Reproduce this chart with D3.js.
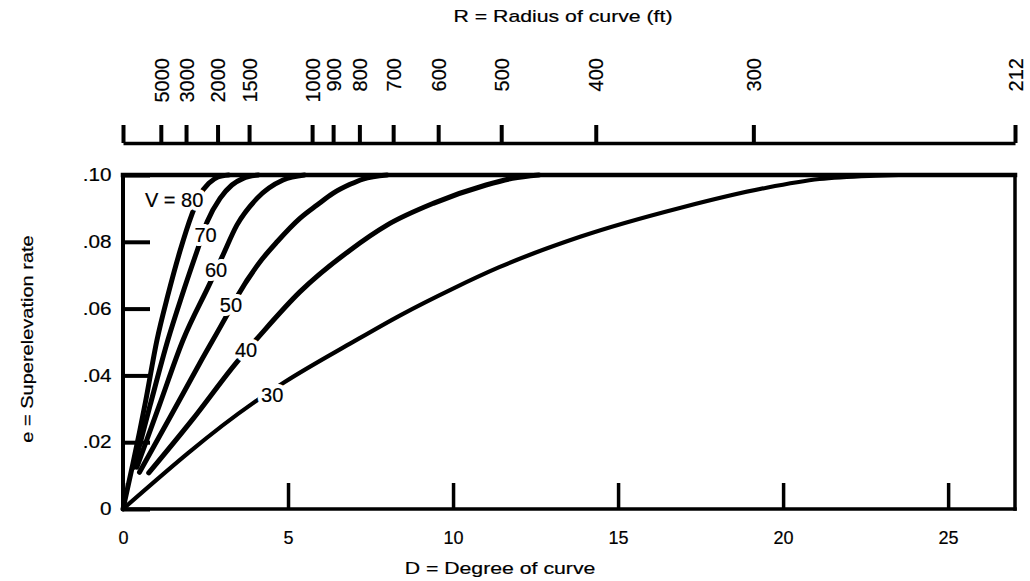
<!DOCTYPE html>
<html>
<head>
<meta charset="utf-8">
<script src="https://cdn.jsdelivr.net/npm/d3@7"></script>
<style>
  body { margin: 0; background: #fff; }
  svg { display: block; font-family: "Liberation Sans", Arial, Helvetica, sans-serif; }
  text.ink { fill: #000; stroke: #000; stroke-width: 0.2px; }
</style>
</head>
<body>
<svg id="chart" width="1030" height="581"></svg>
<script>
// Degree of curve (arc definition): D = 5729.58 / R
const ARC = 5729.58;

// Axis ticks
const R_TICKS = [5000, 3000, 2000, 1500, 1000, 900, 800, 700, 600, 500, 400, 300, 212];
const DEG_TICKS = [0, 5, 10, 15, 20, 25];
const E_TICKS = [0, 0.02, 0.04, 0.06, 0.08, 0.10];

// Design speeds (mph) and their superelevation curves, [D (deg), e]
const SPEEDS = [80, 70, 60, 50, 40, 30];
const e80 = [[0, 0], [0.3, 0.0135], [0.68, 0.032], [1.03, 0.0506], [1.36, 0.064], [1.72, 0.077],
             [2.09, 0.0883], [2.33, 0.094], [2.6, 0.0975], [2.88, 0.0994], [3.2, 0.1]];
const e70 = [[0.33, 0.0125], [0.82, 0.031], [1.36, 0.0506], [1.79, 0.064], [2.27, 0.078],
             [2.55, 0.086], [2.94, 0.093], [3.3, 0.097], [3.64, 0.099], [4.1, 0.1]];
const e60 = [[0.42, 0.0125], [1.1, 0.031], [1.82, 0.0506], [2.64, 0.0677], [3.0, 0.0754],
             [3.45, 0.085], [4.06, 0.093], [4.85, 0.0985], [5.5, 0.1]];
const e50 = [[0.5, 0.011], [1.4, 0.027], [2.33, 0.0437], [3.09, 0.057], [3.45, 0.0635],
             [4.2, 0.0746], [4.67, 0.08], [5.36, 0.087], [5.88, 0.091], [6.36, 0.0945],
             [6.88, 0.0972], [7.27, 0.0988], [8.0, 0.1]];
const e40 = [[0.78, 0.0108], [2.09, 0.0266], [3.45, 0.044], [4.15, 0.052], [5.36, 0.065],
             [6.88, 0.0775], [8.0, 0.085], [9.4, 0.0915], [11.0, 0.097], [11.8, 0.099], [12.6, 0.1]];
const e30 = [[0, 0], [3.94, 0.0317], [4.9, 0.038], [6.88, 0.0495], [8.4, 0.058], [10.0, 0.066],
             [11.4, 0.0724], [13.85, 0.0815], [16.9, 0.0902], [19.5, 0.0962], [21.1, 0.0988],
             [22.8, 0.0998], [23.5, 0.1]];
const CURVES = [e80, e70, e60, e50, e40, e30];
const CURVE_LABELS = ["V = 80", "70", "60", "50", "40", "30"];

const svg = d3.select("#chart");
const dMax = ARC / 212;
const x = d3.scaleLinear().domain([0, dMax]).range([123, 1015]);
const y = d3.scaleLinear().domain([0, 0.10]).range([509, 175]);

// text laid out wider along its own direction
function stretchedText(parent, tx, ty, rot, sx, size, anchor, str) {
  return parent.append("g")
    .attr("transform", `translate(${tx},${ty}) rotate(${rot}) scale(${sx},1)`)
    .append("text")
    .attr("class", "ink")
    .attr("text-anchor", anchor)
    .attr("font-size", size)
    .text(str);
}

// ---- top radius scale ----
const topAxis = d3.axisTop(x)
  .tickValues([0, ...R_TICKS.map(r => ARC / r)])
  .tickSizeInner(18).tickSizeOuter(0)
  .tickFormat((d, i) => i === 0 ? "" : String(R_TICKS[i - 1]));
svg.append("g")
  .attr("transform", `translate(0,143)`)
  .call(topAxis)
  .attr("font-size", null).attr("font-family", null)
  .call(g => {
    g.select(".domain").attr("stroke", "#000").attr("stroke-width", 3.5);
    g.selectAll(".tick line").attr("stroke", "#000").attr("stroke-width", 4);
    g.selectAll(".tick text")
      .attr("class", "ink")
      .attr("transform", "rotate(-90)")
      .attr("x", 85).attr("y", 0).attr("dy", "0.36em")
      .attr("text-anchor", "end")
      .attr("font-size", 20);
  });

stretchedText(svg, 563, 22, 0, 1.25, 17, "middle", "R = Radius of curve (ft)");

// ---- bottom degree axis ----
svg.append("g")
  .attr("transform", `translate(0,${y(0)})`)
  .call(d3.axisBottom(x).tickValues(DEG_TICKS).tickSizeInner(-26).tickSizeOuter(0)
          .tickPadding(22).tickFormat(d3.format("d")))
  .attr("font-size", null).attr("font-family", null)
  .call(g => {
    g.select(".domain").remove();
    g.selectAll(".tick line").attr("stroke", "#000").attr("stroke-width", 3.5);
    g.selectAll(".tick text").attr("class", "ink").attr("font-size", 18);
  });

stretchedText(svg, 500, 574, 0, 1.25, 17, "middle", "D = Degree of curve");

// ---- left superelevation axis ----
const eFmt = d => d === 0 ? "0" : d3.format(".2f")(d).replace(/^0/, "");
svg.append("g")
  .attr("transform", `translate(${x(0)},0)`)
  .call(d3.axisLeft(y).tickValues(E_TICKS).tickSizeInner(-27).tickSizeOuter(0)
          .tickPadding(10).tickFormat(eFmt))
  .attr("font-size", null).attr("font-family", null)
  .call(g => {
    g.select(".domain").remove();
    g.selectAll(".tick line").attr("stroke", "#000").attr("stroke-width", 4);
    g.selectAll(".tick text").attr("class", "ink").attr("font-size", 18)
      .attr("transform", "scale(1.15,1)");
  });

stretchedText(svg, 33, 339, -90, 1.25, 16, "middle", "e = Superelevation rate");

// ---- plot frame ----
const frame = svg.append("g").attr("stroke", "#000").attr("stroke-linecap", "square");
frame.append("line").attr("x1", x(0)).attr("x2", x(dMax)).attr("y1", y(0.1)).attr("y2", y(0.1)).attr("stroke-width", 4.5);
frame.append("line").attr("x1", x(0)).attr("x2", x(0)).attr("y1", y(0.1)).attr("y2", y(0)).attr("stroke-width", 4);
frame.append("line").attr("x1", x(0)).attr("x2", x(dMax)).attr("y1", y(0)).attr("y2", y(0)).attr("stroke-width", 3.5);
frame.append("line").attr("x1", x(dMax)).attr("x2", x(dMax)).attr("y1", y(0.1)).attr("y2", y(0)).attr("stroke-width", 3.5);

// ---- speed curves ----
const line = d3.line().x(d => x(d[0])).y(d => y(d[1])).curve(d3.curveMonotoneX);
svg.append("g")
  .selectAll("path")
  .data(CURVES)
  .join("path")
  .attr("d", line)
  .attr("fill", "none")
  .attr("stroke", "#000")
  .attr("stroke-width", (d, i) => SPEEDS[i] === 30 ? 4.2 : 5)
  .attr("stroke-linecap", "round");

// curve labels: a white halo layer breaks the lines, then the ink on top
const labelAt = [[1.55, 0.0925], [2.5, 0.082], [2.82, 0.0715], [3.27, 0.0611], [3.73, 0.0476], [4.52, 0.0341]];
const labels = svg.append("g");
for (const layer of ["halo", "ink"]) {
  labels.append("g")
    .selectAll("text")
    .data(CURVE_LABELS)
    .join("text")
    .attr("class", layer === "ink" ? "ink" : null)
    .attr("x", (d, i) => x(labelAt[i][0]))
    .attr("y", (d, i) => y(labelAt[i][1]))
    .attr("dy", "0.36em")
    .attr("text-anchor", "middle")
    .attr("font-size", 20)
    .attr("fill", layer === "ink" ? "#000" : "#fff")
    .attr("stroke", layer === "ink" ? null : "#fff")
    .attr("stroke-width", layer === "ink" ? null : 8)
    .attr("stroke-linejoin", "round")
    .text(d => d);
}
</script>
</body>
</html>
